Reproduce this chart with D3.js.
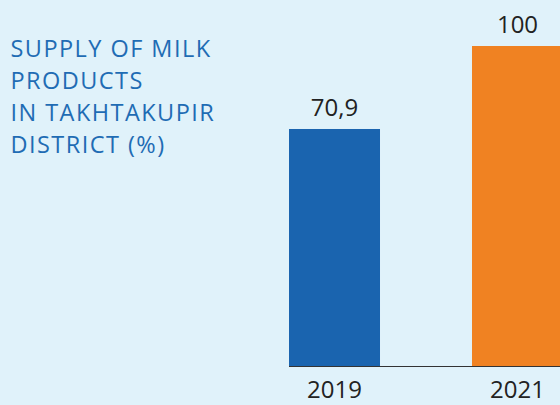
<!DOCTYPE html>
<html>
<head>
<meta charset="utf-8">
<script src="https://cdn.jsdelivr.net/npm/d3@7"></script>
<style>
html,body{margin:0;padding:0;background:#e0f2fa;}
svg{display:block;}
</style>
</head>
<body>
<svg id="chart" width="560" height="405"></svg>
<script>
const categories = ["2019", "2021"];
const values = [70.9, 100];
const valueLabels = ["70,9", "100"];
const titleLines = ["SUPPLY OF MILK", "PRODUCTS", "IN TAKHTAKUPIR", "DISTRICT (%)"];
const colors = ["#1a64af", "#f08222"];

const svg = d3.select("#chart");
svg.append("rect").attr("width", 560).attr("height", 405).attr("fill", "#e0f2fa");

const x = d3.scaleBand().domain(categories).range([289, 563]).paddingInner(0.5027).paddingOuter(0);
const y = d3.scaleLinear().domain([-12.2, 100]).range([366, 46]);

svg.selectAll("rect.bar").data(values).enter().append("rect")
  .attr("class", "bar")
  .attr("x", (d, i) => x(categories[i]))
  .attr("width", x.bandwidth())
  .attr("y", d => y(d))
  .attr("height", d => 366 - y(d))
  .attr("fill", (d, i) => colors[i]);

svg.append("line").attr("x1", 289).attr("x2", 560).attr("y1", 366.5).attr("y2", 366.5)
  .attr("stroke", "#333").attr("stroke-width", 1);

svg.selectAll("text.val").data(values).enter().append("text")
  .attr("class", "val")
  .attr("x", (d, i) => x(categories[i]) + x.bandwidth() / 2)
  .attr("y", d => y(d) - 13)
  .attr("text-anchor", "middle")
  .attr("font-family", "Open Sans")
  .attr("font-size", 24)
  .attr("fill", "#222")
  .text((d, i) => valueLabels[i]);

svg.selectAll("text.cat").data(categories).enter().append("text")
  .attr("class", "cat")
  .attr("x", d => x(d) + x.bandwidth() / 2)
  .attr("y", 398)
  .attr("text-anchor", "middle")
  .attr("font-family", "Open Sans")
  .attr("font-size", 24)
  .attr("fill", "#222")
  .text(d => d);

svg.append("g").selectAll("text").data(titleLines).enter().append("text")
  .attr("x", 10.5)
  .attr("y", (d, i) => 56.5 + i * 32.2)
  .attr("font-family", "Open Sans")
  .attr("font-size", 23.5)
  .attr("letter-spacing", 1.45)
  .attr("fill", "#1f6cb4")
  .text(d => d);
</script>
</body>
</html>
